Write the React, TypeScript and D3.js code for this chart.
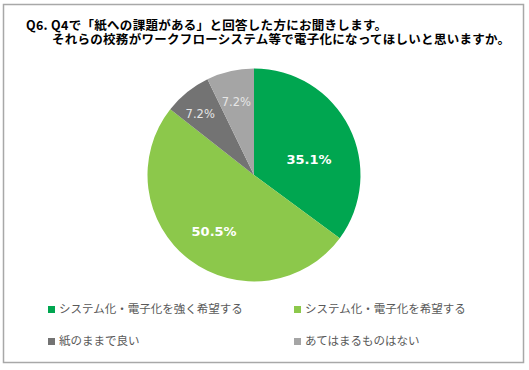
import React from "react";
import * as d3 from "d3";

const titleLines = [
  "Q6. Q4で「紙への課題がある」と回答した方にお聞きします。",
  "それらの校務がワークフローシステム等で電子化になってほしいと思いますか。",
];
const categories = [
  "システム化・電子化を強く希望する",
  "システム化・電子化を希望する",
  "紙のままで良い",
  "あてはまるものはない",
];
const values = [35.1, 50.5, 7.2, 7.2];
const colors = ["#00a650", "#8cc84b", "#737373", "#a5a5a5"];

const width = 529;
const height = 370;
const cx = 254;
const cy = 175;
const radius = 106.5;
// label placement (radius factor, extra dx/dy) tuned to look like Excel "best fit"
const labelRadius = [0.6, 0.65, 0.76, 0.7];
const labelShift = [
  [-2, 13],
  [2, 1],
  [-3, 2],
  [-1, 0],
];

export default function App() {
  const pie = d3
    .pie<number>()
    .value((d) => d)
    .sort(null)(values);
  const arc = d3.arc<d3.PieArcDatum<number>>().innerRadius(0).outerRadius(radius);

  const legendX = d3.scaleOrdinal<number, number>().domain([0, 1]).range([48, 294]);
  const legendY = d3.scaleOrdinal<number, number>().domain([0, 1]).range([308, 340]);

  return (
    <svg
      width={width}
      height={height}
      style={{ position: "absolute", left: 0, top: 0 }}
      fontFamily="'Noto Sans CJK JP', sans-serif"
    >
      <rect x={0} y={0} width={width} height={height} fill="#fff" />
      <rect x={3.5} y={4.5} width={520} height={358} fill="#fff" stroke="#a8a8a8" strokeWidth={1.5} />
      <text
        x={26}
        y={24.5}
        fontSize={12.5}
        fontWeight="bold"
        fill="#000"
        dominantBaseline="central"
        textLength={361}
        lengthAdjust="spacing"
      >
        {titleLines[0]}
      </text>
      <text
        x={52}
        y={38.5}
        fontSize={12.5}
        fontWeight="bold"
        fill="#000"
        dominantBaseline="central"
        textLength={458}
        lengthAdjust="spacing"
      >
        {titleLines[1]}
      </text>
      <g transform={`translate(${cx},${cy})`}>
        {pie.map((d, i) => (
          <path key={i} d={arc(d) || ""} fill={colors[i]} />
        ))}
        {pie.map((d, i) => {
          const r = radius * labelRadius[i];
          const [x, y] = d3.arc<d3.PieArcDatum<number>>().innerRadius(r).outerRadius(r).centroid(d);
          const big = d.value > 20;
          return (
            <text
              key={i}
              x={x + labelShift[i][0]}
              y={y + labelShift[i][1]}
              textAnchor="middle"
              dominantBaseline="central"
              fontFamily="'DejaVu Sans', Verdana, sans-serif"
              fontSize={big ? 13 : 11.5}
              fontWeight={big ? "bold" : "normal"}
              fill={big ? "#fff" : "#e6e6e6"}
            >
              {`${d.value.toFixed(1)}%`}
            </text>
          );
        })}
      </g>
      {categories.map((c, i) => {
        const x = legendX(i % 2);
        const y = legendY(Math.floor(i / 2));
        return (
          <g key={c}>
            <rect x={x} y={y - 2} width={7} height={7} fill={colors[i]} />
            <text x={x + 11} y={y} fontSize={11.5} fill="#595959" dominantBaseline="central">
              {c}
            </text>
          </g>
        );
      })}
    </svg>
  );
}
